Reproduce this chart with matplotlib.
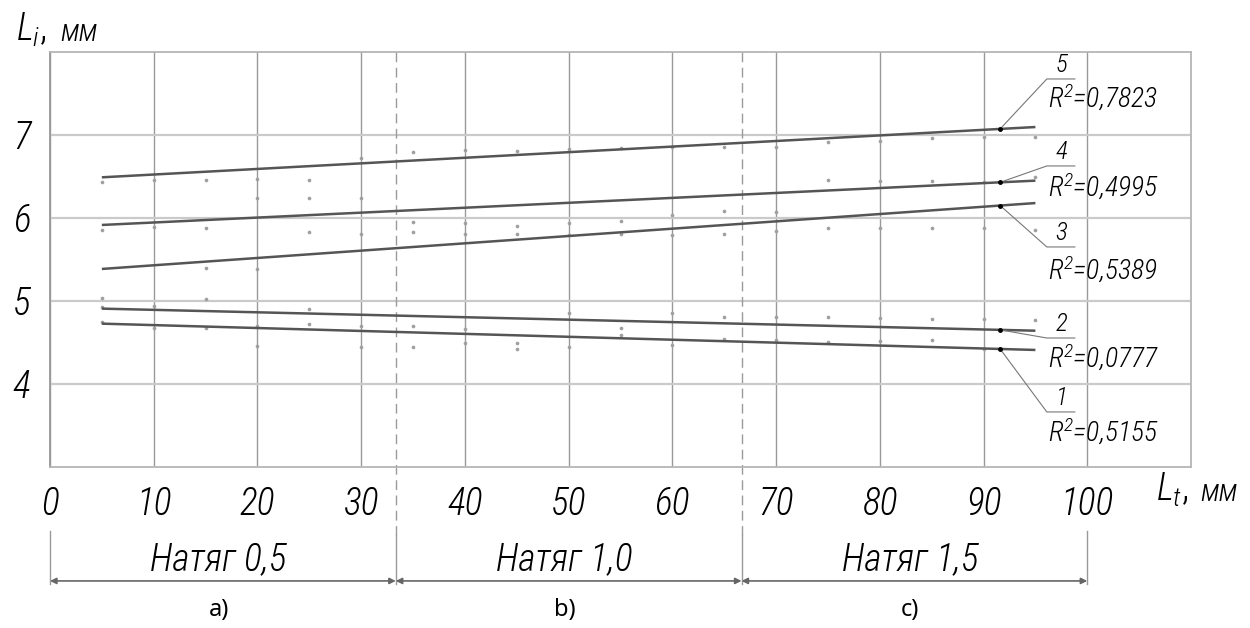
import matplotlib
matplotlib.use("Agg")
import numpy as np
import matplotlib.pyplot as plt
from matplotlib import font_manager

# ---------------- data ----------------
x_points = [5, 10, 15, 20, 25, 30, 35, 40, 45, 50, 55, 60, 65, 70, 75, 80, 85, 90, 95]
series_5 = [6.43, 6.46, 6.46, 6.47, 6.46, 6.72, 6.80, 6.82, 6.81, 6.83, 6.84, 6.85, 6.85, 6.85, 6.91, 6.93, 6.96, 6.97, 6.98]
series_4 = [5.86, 5.89, 5.88, 6.24, 6.24, 6.24, 5.95, 5.94, 5.90, 5.94, 5.96, 6.04, 6.08, 6.07, 6.46, 6.44, 6.44, 6.43, 6.49]
series_3 = [5.04, np.nan, 5.40, 5.39, 5.83, 5.81, 5.83, 5.81, 5.81, 5.80, 5.81, 5.80, 5.81, 5.84, 5.88, 5.88, 5.88, 5.88, 5.85]
series_2 = [4.93, 4.94, 5.02, 4.70, 4.90, 4.70, 4.70, 4.66, 4.49, 4.85, 4.68, 4.85, 4.81, 4.81, 4.81, 4.80, 4.78, 4.78, 4.77]
series_1 = [4.75, 4.68, 4.68, 4.46, 4.72, 4.45, 4.44, 4.49, 4.42, 4.45, 4.59, 4.47, 4.54, 4.53, 4.51, 4.52, 4.53, 4.42, np.nan]

trend_x = [5, 95]
trend_1 = [4.727, 4.410]
trend_2 = [4.908, 4.642]
trend_3 = [5.386, 6.180]
trend_4 = [5.916, 6.450]
trend_5 = [6.490, 7.096]

line_numbers = ["1", "2", "3", "4", "5"]
r2_labels = ["0,5155", "0,0777", "0,5389", "0,4995", "0,7823"]

xtick_values = [0, 10, 20, 30, 40, 50, 60, 70, 80, 90, 100]
xtick_labels = ["0", "10", "20", "30", "40", "50", "60", "70", "80", "90", "100"]
ytick_values = [4, 5, 6, 7]
ytick_labels = ["4", "5", "6", "7"]

section_bounds = [0, 100 / 3, 200 / 3, 100]
section_titles = ["Натяг 0,5", "Натяг 1,0", "Натяг 1,5"]
section_letters = ["a)", "b)", "c)"]

# ---------------- fonts ----------------
names = {f.name for f in font_manager.fontManager.ttflist}
if "Roboto Condensed" in names:
    FAM = "Roboto Condensed"
    STRETCH = "normal"
else:
    FAM = "DejaVu Sans"
    STRETCH = "condensed"
WEIGHT = "light"
plt.rcParams["font.family"] = [FAM, "DejaVu Sans"]
plt.rcParams["font.stretch"] = STRETCH
plt.rcParams["font.weight"] = WEIGHT
plt.rcParams["mathtext.fontset"] = "custom"
plt.rcParams["mathtext.rm"] = FAM + ":italic:light"
plt.rcParams["mathtext.it"] = FAM + ":italic:light"

FS_BIG = 27
fig = plt.figure(figsize=(12.5, 6.28), dpi=100)
ax = fig.add_axes([0.04, 0.2564, 0.9128, 0.6608])
ax.set_xlim(0, 110)
ax.set_ylim(3, 8)

# ticks & grid
ax.set_xticks(xtick_values)
ax.set_xticklabels(xtick_labels, fontsize=FS_BIG, fontstyle="italic")
ax.set_yticks(ytick_values)
ax.set_yticklabels(ytick_labels, fontsize=FS_BIG, fontstyle="italic")
ax.tick_params(axis="both", length=0)
ax.tick_params(axis="x", pad=14)
ax.tick_params(axis="y", pad=14)
ax.xaxis.grid(True, color="#9a9a9a", lw=1.0, zorder=0)
ax.yaxis.grid(True, color="#cacaca", lw=1.6, zorder=0)
ax.set_axisbelow(True)
for s in ax.spines.values():
    s.set_color("#b5b5b5")
    s.set_linewidth(1.3)
ax.spines["left"].set_color("#999999")

# scatter points
for ser in [series_1, series_2, series_3, series_4, series_5]:
    ax.scatter(x_points, ser, s=7, color="#a0a0a0", zorder=3, linewidths=0)

# trend lines and labels
trends = [trend_1, trend_2, trend_3, trend_4, trend_5]
under_y = [3.663, 4.554, 5.651, 6.627, 7.675]
r2_y = [3.42, 4.31, 5.37, 6.37, 7.446]
x_anchor = 91.6
for tr, num, r2, uy, ry in zip(trends, line_numbers, r2_labels, under_y, r2_y):
    ax.plot(trend_x, tr, color="#555555", lw=1.8, zorder=4, solid_capstyle="butt")
    ya = np.interp(x_anchor, trend_x, tr)
    ax.plot([x_anchor, 96.1, 98.8], [ya, uy, uy], color="#777777", lw=0.8, zorder=5, clip_on=False)
    ax.plot([x_anchor], [ya], marker="o", ms=2.5, color="black", zorder=6)
    ax.text(97.5, uy + 0.02, num, ha="center", va="bottom", fontsize=18, fontstyle="italic", zorder=7)
    ax.text(96.2, ry, "R$^{2}$=" + r2, ha="left", va="center", fontsize=20, fontstyle="italic", zorder=7)

# dashed separators extending below the axes
y_top = 8.0
y_dash_end = 2.18
y_dim = 1.627
for xb in section_bounds[1:3]:
    ax.plot([xb, xb], [y_top, y_dash_end], color="#9a9a9a", lw=1.0, ls=(0, (7, 4)), clip_on=False, zorder=2)
    ax.plot([xb, xb], [y_dash_end, y_dim - 0.04], color="#9a9a9a", lw=1.0, clip_on=False, zorder=2)
for xb in [section_bounds[0], section_bounds[3]]:
    ax.plot([xb, xb], [2.229, y_dim - 0.04], color="#9a9a9a", lw=1.0, clip_on=False, zorder=2)

# dimension lines
for i in range(3):
    x0, x1 = section_bounds[i], section_bounds[i + 1]
    ax.annotate("", xy=(x0, y_dim), xytext=(x1, y_dim), annotation_clip=False,
                arrowprops=dict(arrowstyle="<|-|>", color="#666666", lw=1.2,
                                mutation_scale=9, shrinkA=0, shrinkB=0))
    xc = (x0 + x1) / 2 - 0.4
    ax.text(xc, 1.88, section_titles[i], ha="center", va="center", fontsize=FS_BIG,
            fontstyle="italic", clip_on=False)
    ax.text(xc, 1.277, section_letters[i], ha="center", va="center", fontsize=17,
            family=["Noto Sans", "DejaVu Sans"], fontweight="normal", fontstretch="normal",
            clip_on=False)

# axis titles
fig.text(16 / 1250, 1 - 30 / 628, "$L_{i}$,", fontsize=FS_BIG, va="center", ha="left")
fig.text(60 / 1250, 1 - 32 / 628, "мм", fontsize=22, fontstyle="italic", va="center", ha="left")
fig.text(1156 / 1250, 1 - 490 / 628, "$L_{t}$,", fontsize=FS_BIG, va="center", ha="left")
fig.text(1200 / 1250, 1 - 492 / 628, "мм", fontsize=22, fontstyle="italic", va="center", ha="left")

fig.savefig("out.png", dpi=100, facecolor="white")
